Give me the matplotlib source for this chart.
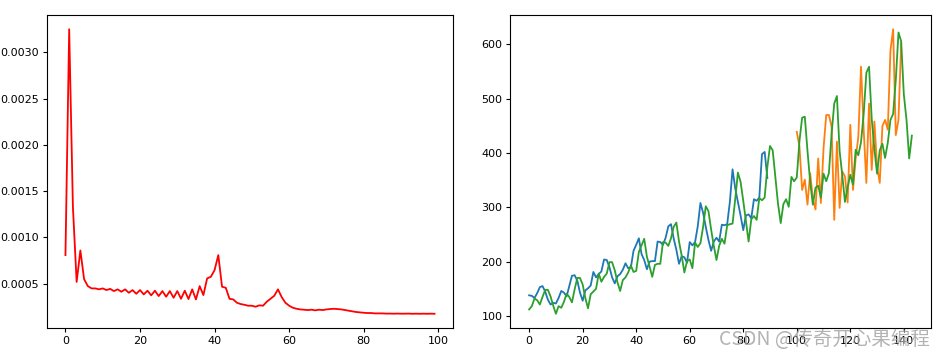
import numpy as np
import matplotlib
matplotlib.use("Agg")
import matplotlib.pyplot as plt

# training loss per epoch
loss = [0.00081, 0.00325, 0.00133, 0.00052, 0.00086, 0.00055, 0.000475, 0.00045, 0.00045, 0.00044,
        0.00045, 0.000432, 0.000445, 0.000421, 0.00044, 0.000414, 0.00044, 0.000403, 0.000432, 0.000392,
        0.000432, 0.000385, 0.000425, 0.000375, 0.000425, 0.000367, 0.000421, 0.00036, 0.000421, 0.000349,
        0.000421, 0.000338, 0.000425, 0.000335, 0.00044, 0.000331, 0.000475, 0.000378, 0.000558, 0.000576,
        0.000648, 0.00081, 0.000468, 0.000457, 0.000338, 0.000331, 0.000295, 0.000281, 0.000273, 0.000263,
        0.000263, 0.000252, 0.000267, 0.000263, 0.000306, 0.000338, 0.00037, 0.00044, 0.000356, 0.000295,
        0.000263, 0.000241, 0.00023, 0.000223, 0.00022, 0.000216, 0.00022, 0.000213, 0.00022, 0.000216,
        0.000223, 0.000227, 0.00023, 0.000227, 0.000223, 0.000216, 0.000209, 0.000202, 0.000195, 0.000191,
        0.000187, 0.000184, 0.000184, 0.00018, 0.00018, 0.00018, 0.000178, 0.000178, 0.000177, 0.000178,
        0.000177, 0.000177, 0.000178, 0.000176, 0.000177, 0.000176, 0.000177, 0.000176, 0.000177, 0.000176]

# airline passengers (actual)
passengers = [112, 118, 132, 129, 121, 135, 148, 148, 136, 119, 104, 118,
              115, 126, 141, 135, 125, 149, 170, 170, 158, 133, 114, 140,
              145, 150, 178, 163, 172, 178, 199, 199, 184, 162, 146, 166,
              171, 180, 193, 181, 183, 218, 230, 242, 209, 191, 172, 194,
              196, 196, 236, 235, 229, 243, 264, 272, 237, 211, 180, 201,
              204, 188, 235, 227, 234, 264, 302, 293, 259, 229, 203, 229,
              242, 233, 267, 269, 270, 315, 364, 347, 312, 274, 237, 278,
              284, 277, 317, 313, 318, 374, 413, 405, 355, 306, 271, 306,
              315, 301, 356, 348, 355, 422, 465, 467, 404, 347, 305, 336,
              340, 318, 362, 348, 363, 435, 491, 505, 404, 359, 310, 337,
              360, 342, 406, 396, 420, 472, 548, 559, 463, 407, 362, 405,
              417, 391, 419, 461, 472, 535, 622, 606, 508, 461, 390, 432]

# train predictions, x = 0..89
train_pred = [138, 137, 133, 142, 153, 155, 145, 130, 121, 124,
              123, 133, 146, 143, 136, 155, 174, 175, 165, 143,
              128, 147, 151, 156, 181, 171, 177, 182, 204, 203,
              190, 171, 160, 173, 177, 185, 197, 188, 189, 220,
              231, 243, 214, 203, 186, 200, 201, 201, 237, 236,
              231, 244, 265, 269, 243, 222, 196, 210, 208, 198,
              236, 230, 236, 265, 308, 290, 264, 240, 220, 237,
              244, 237, 268, 267, 269, 310, 370, 335, 310, 285,
              258, 285, 287, 280, 315, 312, 318, 398, 402, 354]

# test predictions, x = 100..139
test_start = 100
test_pred = [439, 412, 332, 351, 305, 363, 316, 296, 390, 308,
             409, 470, 470, 449, 277, 421, 299, 366, 357, 309,
             452, 332, 390, 430, 559, 443, 345, 491, 369, 458,
             375, 345, 450, 461, 443, 589, 628, 433, 461, 602]

plt.rcParams["xtick.labelsize"] = 8
plt.rcParams["ytick.labelsize"] = 8
plt.rcParams["xtick.major.size"] = 3
plt.rcParams["ytick.major.size"] = 3
plt.rcParams["xtick.major.pad"] = 2.5
plt.rcParams["ytick.major.pad"] = 2.5
plt.rcParams["lines.linewidth"] = 1.3

fig = plt.figure(figsize=(9.44, 3.55), dpi=100)
ax1 = fig.add_axes([47 / 944, 27 / 355, 406 / 944, 313 / 355])
ax2 = fig.add_axes([510 / 944, 27 / 355, 421 / 944, 313 / 355])

ax1.plot(np.arange(len(loss)), loss, color="red")
ax1.set_yticks([0.0005, 0.0010, 0.0015, 0.0020, 0.0025, 0.0030])

ax2.plot(np.arange(len(train_pred)), train_pred)
ax2.plot(np.arange(test_start, test_start + len(test_pred)), test_pred)
ax2.plot(np.arange(len(passengers)), passengers)

fig.text(0.985, 0.015, "CSDN @传奇开心果编程", ha="right", va="bottom",
         fontsize=14, color="#a0a0a0", alpha=0.8,
         family=["Noto Sans CJK SC", "DejaVu Sans"])

fig.savefig("out.png", dpi=100)
